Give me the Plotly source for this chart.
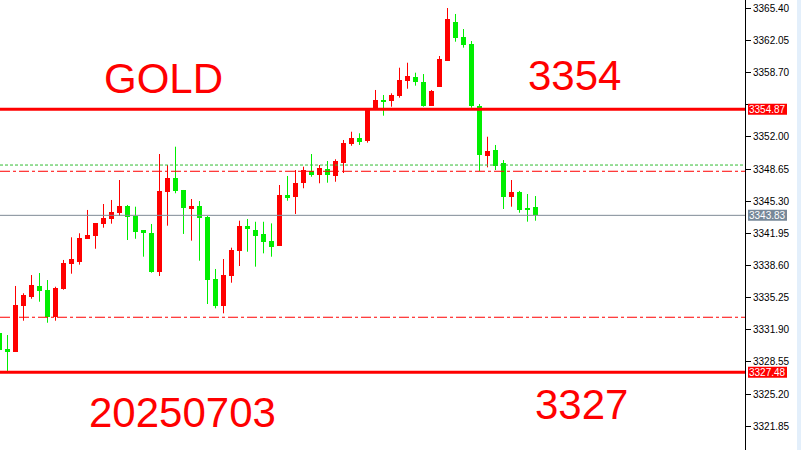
import plotly.graph_objects as go

# ---- data ----
opens = [3331.60, 3329.90, 3329.62, 3334.38, 3335.35, 3336.47, 3336.05, 3333.27, 3336.18, 3338.79,
         3339.00, 3341.39, 3341.71, 3342.96, 3343.48, 3344.10, 3344.80, 3343.76, 3342.30, 3341.96,
         3337.96, 3346.29, 3347.72, 3346.47, 3344.52, 3344.80, 3343.69, 3337.20, 3334.41, 3337.54,
         3340.14, 3342.72, 3342.30, 3341.89, 3341.16, 3340.66, 3345.95, 3345.71, 3347.17, 3348.45,
         3348.06, 3348.65, 3347.96, 3349.31, 3351.29, 3351.89, 3351.61, 3354.80, 3355.85, 3355.74,
         3356.29, 3357.86, 3358.21, 3357.72, 3355.25, 3357.23, 3359.94, 3363.97, 3362.41, 3361.71,
         3355.25, 3350.04, 3350.64, 3349.25, 3345.77, 3346.29, 3344.51, 3344.67]
highs = [3331.88, 3331.36, 3336.47, 3335.71, 3337.61, 3337.82, 3337.09, 3336.39, 3339.18, 3341.54,
         3341.96, 3344.39, 3343.03, 3345.01, 3345.43, 3347.51, 3344.91, 3344.73, 3342.30, 3342.93,
         3350.22, 3349.07, 3350.98, 3346.47, 3345.53, 3345.32, 3343.76, 3338.24, 3339.28, 3340.46,
         3343.27, 3343.45, 3343.16, 3343.16, 3342.99, 3346.99, 3347.93, 3348.55, 3348.90, 3350.22,
         3349.07, 3349.49, 3349.67, 3351.68, 3352.54, 3352.38, 3354.80, 3356.89, 3356.37, 3356.54,
         3359.21, 3359.73, 3358.69, 3358.55, 3356.89, 3360.43, 3365.43, 3364.81, 3363.24, 3361.99,
         3355.43, 3352.02, 3351.16, 3349.59, 3347.51, 3346.37, 3346.05, 3345.84]
lows = [3329.59, 3327.48, 3329.62, 3332.85, 3335.14, 3334.83, 3332.64, 3332.85, 3336.08, 3337.75,
        3338.69, 3341.39, 3340.35, 3342.54, 3342.96, 3343.79, 3341.26, 3341.39, 3339.52, 3337.85,
        3337.51, 3342.75, 3346.13, 3341.89, 3341.19, 3339.10, 3334.59, 3334.14, 3333.62, 3336.81,
        3338.55, 3340.04, 3338.48, 3339.87, 3339.52, 3340.66, 3345.35, 3343.97, 3346.65, 3347.85,
        3347.17, 3347.23, 3347.33, 3348.24, 3351.08, 3351.16, 3351.40, 3354.80, 3354.21, 3355.15,
        3356.09, 3357.02, 3357.34, 3355.15, 3355.25, 3357.23, 3359.94, 3361.92, 3361.30, 3355.04,
        3348.45, 3348.83, 3348.55, 3344.49, 3344.73, 3344.10, 3343.17, 3343.27]
closes = [3329.80, 3329.62, 3334.49, 3335.53, 3336.57, 3335.98, 3333.27, 3336.26, 3338.83, 3339.28,
          3341.44, 3341.78, 3343.03, 3343.55, 3344.18, 3344.80, 3343.69, 3342.12, 3342.02, 3337.96,
          3346.37, 3347.72, 3346.37, 3344.63, 3344.80, 3343.58, 3337.09, 3334.41, 3337.61, 3340.22,
          3342.72, 3342.37, 3341.71, 3341.08, 3340.56, 3345.95, 3345.67, 3347.17, 3348.55, 3348.06,
          3348.76, 3348.06, 3349.49, 3351.36, 3351.89, 3351.50, 3354.80, 3355.85, 3355.67, 3356.37,
          3357.93, 3358.35, 3357.75, 3355.25, 3356.78, 3360.12, 3364.29, 3362.34, 3361.61, 3355.25,
          3350.12, 3350.53, 3349.00, 3345.77, 3346.23, 3344.39, 3344.41, 3343.83]
bar_index = list(range(len(opens)))

tick_values = [3321.85, 3325.20, 3328.55, 3331.90, 3335.25, 3338.60, 3341.95,
               3345.30, 3348.65, 3352.00, 3355.35, 3358.70, 3362.05, 3365.40]

support_resistance = [3354.87, 3327.48]     # thick red lines with labels
current_price = 3343.83                     # grey line with label
dotted_green_level = [3349.07]
dashdot_red_levels = [3348.42, 3333.21]

text_labels = ["GOLD", "3354", "20250703", "3327"]

# ---- style / layout ----
UP = "#ff0000"
DOWN = "#00ee00"
Y_MIN, Y_MAX = 3319.38, 3366.265
PLOT_W = 745
X_MIN, X_MAX = 0.0625, 93.1875

fig = go.Figure()

# wicks
for col, cond in ((UP, lambda o, c: c >= o), (DOWN, lambda o, c: c < o)):
    xs, ys = [], []
    for i, o, h, l, c in zip(bar_index, opens, highs, lows, closes):
        if cond(o, c):
            xs += [i, i, None]
            ys += [l, h, None]
    fig.add_trace(go.Scatter(x=xs, y=ys, mode="lines", line=dict(color=col, width=1),
                             hoverinfo="skip", showlegend=False))

# bodies
bases = [min(o, c) for o, c in zip(opens, closes)]
heights = [max(abs(c - o), 0.1) for o, c in zip(opens, closes)]
colors = [UP if c >= o else DOWN for o, c in zip(opens, closes)]
fig.add_trace(go.Bar(x=bar_index, y=heights, base=bases, width=0.625,
                     marker=dict(color=colors, line=dict(width=0)), showlegend=False))

shapes = []
# levels
for p in dotted_green_level:
    shapes.append(dict(type="line", xref="paper", yref="y", x0=0, x1=1, y0=p, y1=p,
                       line=dict(color="#33bb33", width=1, dash="3px,2px")))
for p in dashdot_red_levels:
    shapes.append(dict(type="line", xref="paper", yref="y", x0=0, x1=1, y0=p, y1=p,
                       line=dict(color="#ff0000", width=1, dash="10px,3px,3px,3px")))
shapes.append(dict(type="line", xref="paper", yref="y", x0=0, x1=1, y0=current_price, y1=current_price,
                   line=dict(color="#7f8a96", width=1)))
for p in support_resistance:
    shapes.append(dict(type="line", xref="paper", yref="y", x0=0, x1=1, y0=p, y1=p,
                       line=dict(color="#ff0000", width=3)))


def py(p):
    return (p - Y_MIN) / (Y_MAX - Y_MIN)


annotations = []
box_x0 = 1 + 3 / PLOT_W
box_x1 = 1 + 42 / PLOT_W
half_h = 5.5 / 450
for p, col in [(support_resistance[0], "#ff0000"), (support_resistance[1], "#ff0000"),
               (current_price, "#778899")]:
    shapes.append(dict(type="rect", xref="paper", yref="paper", x0=box_x0, x1=box_x1,
                       y0=py(p) - half_h, y1=py(p) + half_h, fillcolor=col, line=dict(width=0),
                       layer="above"))
    annotations.append(dict(xref="paper", yref="y", x=(box_x0 + box_x1) / 2, y=p,
                            text=f"{p:.2f}", showarrow=False, xanchor="center", yanchor="middle",
                            font=dict(family="Liberation Sans", size=10, color="white")))

# light strip at far right
shapes.append(dict(type="rect", xref="paper", yref="paper", x0=1 + 52 / PLOT_W, x1=1 + 56 / PLOT_W,
                   y0=0, y1=1, fillcolor="#e3effb", line=dict(width=0), layer="above"))

text_pos = [(163, 78), (574.5, 75.5), (182, 412), (581, 404)]
for t, (px, pyy) in zip(text_labels, text_pos):
    annotations.append(dict(xref="paper", yref="paper", x=px / PLOT_W, y=1 - pyy / 450, text=t,
                            showarrow=False, xanchor="center", yanchor="middle",
                            font=dict(family="Liberation Sans", size=42, color="#ff0000")))

# tick label hidden behind the red price box in the reference
tick_text = ["" if abs(v - support_resistance[0]) < 1.0 else f"{v:.2f}" for v in tick_values]

fig.update_layout(
    width=801, height=450,
    margin=dict(l=0, r=56, t=0, b=0, autoexpand=False),
    paper_bgcolor="white", plot_bgcolor="white",
    showlegend=False, bargap=0, hovermode=False,
    shapes=shapes, annotations=annotations,
    xaxis=dict(range=[X_MIN, X_MAX], visible=False, fixedrange=True),
    yaxis=dict(range=[Y_MIN, Y_MAX], side="right", showgrid=False, zeroline=False,
               showline=True, linecolor="black", linewidth=1,
               ticks="outside", ticklen=5, tickcolor="black", tickwidth=1,
               tickvals=tick_values, ticktext=tick_text,
               tickfont=dict(family="Liberation Sans", size=10, color="black"),
               fixedrange=True),
)

fig.write_html("out.html", config={"displayModeBar": False},
               post_script="document.body.style.margin='0';document.body.style.overflow='hidden';")
